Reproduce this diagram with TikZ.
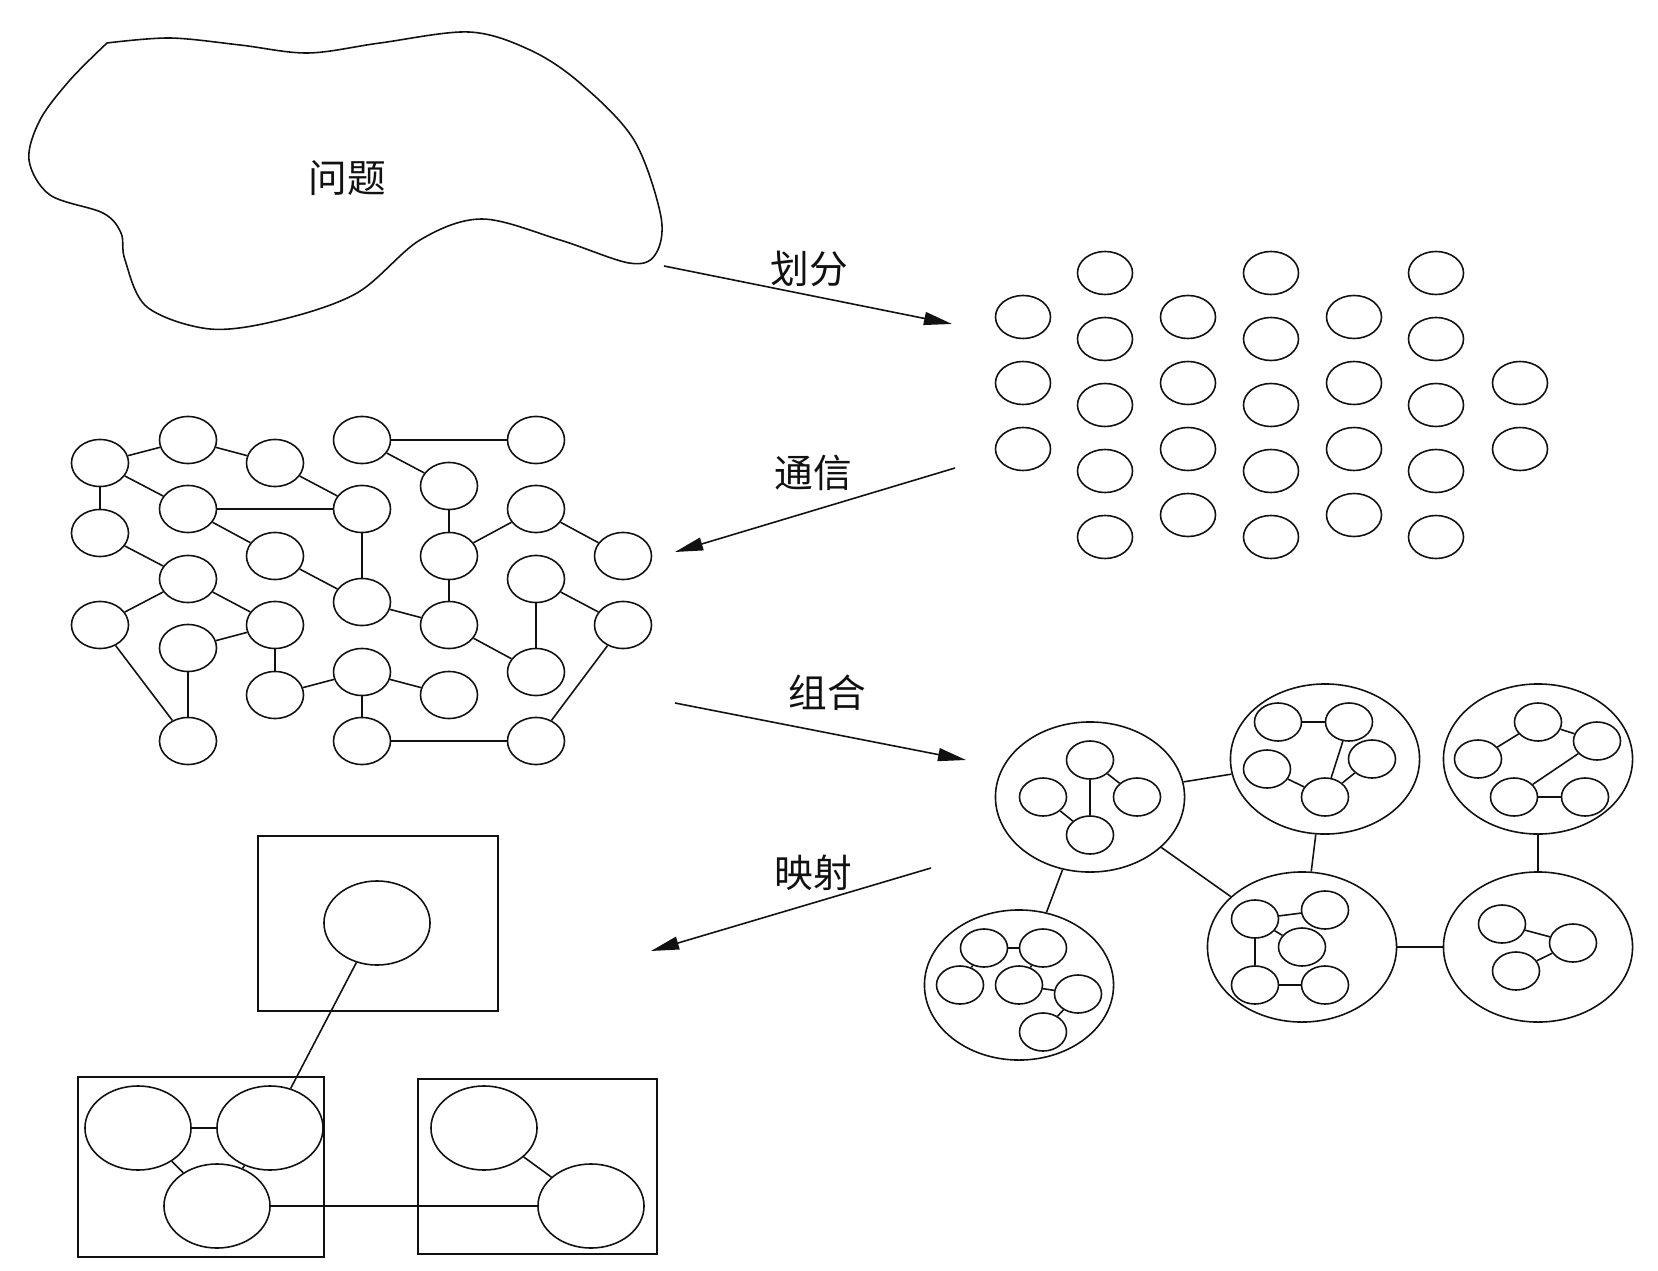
\documentclass[tikz,border=0pt]{standalone}
\usepackage{fontspec}
\newfontfamily\cjk{Noto Sans CJK SC}
\usepackage{xcolor}
\usepackage{tikz}
\usetikzlibrary{arrows.meta,shapes.geometric}
\definecolor{Ink}{HTML}{111111}
\tikzset{
  cell/.style={ellipse,draw=Ink,minimum width=5.5mm,minimum height=4.3mm,inner sep=0pt},
  task/.style={ellipse,draw=Ink,minimum width=5.7mm,minimum height=4.7mm,inner sep=0pt},
  group/.style={ellipse,draw=Ink,minimum width=18.9mm,minimum height=15mm,inner sep=0pt},
  sub/.style={ellipse,draw=Ink,minimum width=4.7mm,minimum height=3.8mm,inner sep=0pt},
  proc/.style={ellipse,draw=Ink,minimum width=10.6mm,minimum height=8.4mm,inner sep=0pt},
  arrow/.style={-{Triangle[length=2.8mm,width=1.3mm]},draw=Ink},
  link/.style={draw=Ink},
  lbl/.style={font=\cjk\fontsize{11}{13}\selectfont,text=Ink}
}

\begin{document}
\begin{tikzpicture}[x=0.01cm,y=-0.01cm,line width=0.45pt]
  \useasboundingbox (0,0) rectangle (1658,1270);

  % problem
  \draw[Ink,smooth,tension=0.55] plot coordinates {(107,43) (170,38) (240,45) (308,53) (380,43) (469,32) (530,50) (580,83) (634,140) (661,217) (655,255) (629,263) (560,240) (482,219) (420,240) (357,293) (280,320) (210,329) (147,307) (125,260) (121,233) (103,213) (50,195) (29,160) (40,120) (70,80) (107,43)};
  \node[lbl] (prob) at (347,178) {问题};

  % partition
  \foreach \x/\ys in {1023/{317,383,449},1105/{273,339,405,471,537},1188/{317,383,449,515},
                      1271/{273,339,405,471,537},1354/{317,383,449,515},1436/{273,339,405,471,537},1520/{383,449}}
    \foreach \y in \ys
      \node[cell] (p\x-\y) at (\x,\y) {};

  % communication
  \node[task] (a1) at (100,463) {};
  \node[task] (a2) at (188,440) {};
  \node[task] (a3) at (275,463) {};
  \node[task] (a4) at (362,440) {};
  \node[task] (a5) at (536,440) {};
  \node[task] (b1) at (449,486) {};
  \node[task] (b2) at (188,509) {};
  \node[task] (b3) at (362,509) {};
  \node[task] (b4) at (536,509) {};
  \node[task] (c1) at (100,533) {};
  \node[task] (c2) at (275,556) {};
  \node[task] (c3) at (449,556) {};
  \node[task] (c4) at (623,556) {};
  \node[task] (d1) at (188,579) {};
  \node[task] (d2) at (536,579) {};
  \node[task] (e1) at (362,602) {};
  \node[task] (f1) at (100,625) {};
  \node[task] (f2) at (275,625) {};
  \node[task] (f3) at (449,625) {};
  \node[task] (f4) at (623,625) {};
  \node[task] (g1) at (188,648) {};
  \node[task] (h1) at (362,672) {};
  \node[task] (h2) at (536,672) {};
  \node[task] (i1) at (275,695) {};
  \node[task] (i2) at (449,695) {};
  \node[task] (j1) at (188,741) {};
  \node[task] (j2) at (362,741) {};
  \node[task] (j3) at (536,741) {};
  \foreach \u/\v in {a1/a2,a2/a3,a1/b2,a1/c1,a3/b3,b2/b3,b2/c2,a4/a5,a4/b1,b1/c3,b3/e1,c2/e1,e1/f3,c3/f3,c3/b4,b4/c4,
                     c1/d1,d1/f1,d1/f2,f2/g1,f2/i1,g1/j1,f1/j1,i1/h1,h1/i2,h1/j2,j2/j3,f3/h2,d2/h2,d2/f4,f4/j3}
    \draw[link] (\u) -- (\v);

  % agglomeration
  \node[group] (k1) at (1090,797) {};
  \node[group] (k2) at (1325,759) {};
  \node[group] (k3) at (1538,759) {};
  \node[group] (k4) at (1019,985) {};
  \node[group] (k5) at (1302,947) {};
  \node[group] (k6) at (1538,947) {};
  \node[sub] (k1a) at (1090,760) {};
  \node[sub] (k1b) at (1043,797) {};
  \node[sub] (k1c) at (1137,797) {};
  \node[sub] (k1d) at (1090,835) {};
  \node[sub] (k2a) at (1278,722) {};
  \node[sub] (k2b) at (1349,722) {};
  \node[sub] (k2c) at (1372,759) {};
  \node[sub] (k2d) at (1267,769) {};
  \node[sub] (k2e) at (1325,797) {};
  \node[sub] (k3a) at (1538,722) {};
  \node[sub] (k3b) at (1597,741) {};
  \node[sub] (k3c) at (1478,759) {};
  \node[sub] (k3d) at (1514,797) {};
  \node[sub] (k3e) at (1585,797) {};
  \node[sub] (k4a) at (984,948) {};
  \node[sub] (k4b) at (1043,948) {};
  \node[sub] (k4c) at (960,985) {};
  \node[sub] (k4d) at (1019,985) {};
  \node[sub] (k4e) at (1078,994) {};
  \node[sub] (k4f) at (1043,1032) {};
  \node[sub] (k5a) at (1255,919) {};
  \node[sub] (k5b) at (1325,910) {};
  \node[sub] (k5c) at (1302,947) {};
  \node[sub] (k5d) at (1255,985) {};
  \node[sub] (k5e) at (1325,985) {};
  \node[sub] (k6a) at (1502,924) {};
  \node[sub] (k6b) at (1573,943) {};
  \node[sub] (k6c) at (1516,971) {};
  \foreach \u/\v in {k1a/k1d,k1a/k1c,k1b/k1d,k2a/k2b,k2b/k2e,k2c/k2e,k2d/k2e,k3a/k3c,k3a/k3b,k3b/k3d,k3d/k3e,
                     k4a/k4b,k4a/k4c,k4b/k4d,k4d/k4e,k4e/k4f,k5a/k5b,k5a/k5c,k5a/k5d,k5d/k5e,k6a/k6b,k6b/k6c,
                     k1/k2,k1/k4,k1/k5,k2/k5,k5/k6,k3/k6}
    \draw[link] (\u) -- (\v);

  % mapping
  \draw[Ink] (258,836) rectangle (498,1011);
  \draw[Ink] (78,1077) rectangle (324,1257);
  \draw[Ink] (418,1079) rectangle (657,1254);
  \node[proc] (m0) at (377,923) {};
  \node[proc] (m1) at (138,1128) {};
  \node[proc] (m2) at (270,1128) {};
  \node[proc] (m3) at (217,1206) {};
  \node[proc] (m4) at (484,1128) {};
  \node[proc] (m5) at (591,1206) {};
  \foreach \u/\v in {m0/m2,m1/m2,m1/m3,m2/m3,m3/m5,m4/m5}
    \draw[link] (\u) -- (\v);

  % steps
  \coordinate (s1) at (664,266);  \coordinate (t1) at (952,324);
  \coordinate (s2) at (955,468);  \coordinate (t2) at (675,552);
  \coordinate (s3) at (675,703);  \coordinate (t3) at (966,760);
  \coordinate (s4) at (931,868);  \coordinate (t4) at (651,951);
  \draw[arrow] (s1) -- (t1);
  \draw[arrow] (s2) -- (t2);
  \draw[arrow] (s3) -- (t3);
  \draw[arrow] (s4) -- (t4);
  \node[lbl] (lcut) at (809,269) {划分};
  \node[lbl] (lcom) at (813,473) {通信};
  \node[lbl] (lagg) at (827,693) {组合};
  \node[lbl] (lmap) at (813,873) {映射};
\end{tikzpicture}
\end{document}
